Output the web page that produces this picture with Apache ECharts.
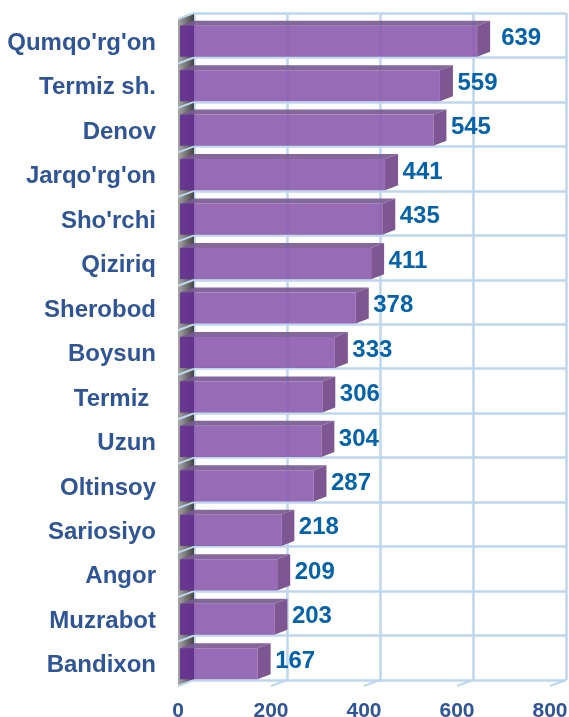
<!DOCTYPE html>
<html>
<head>
<meta charset="utf-8">
<style>
  html, body { margin: 0; padding: 0; background: #fff; }
  #chart { width: 569px; height: 717px; }
</style>
<script src="https://cdn.jsdelivr.net/npm/echarts@6/dist/echarts.min.js"></script>
</head>
<body>
<div id="chart"></div>
<script>
const districts = ["Qumqo'rg'on", 'Termiz sh.', 'Denov', "Jarqo'rg'on", "Sho'rchi", 'Qiziriq', 'Sherobod', 'Boysun', 'Termiz ', 'Uzun', 'Oltinsoy', 'Sariosiyo', 'Angor', 'Muzrabot', 'Bandixon'];
const counts = [639, 559, 545, 441, 435, 411, 378, 333, 306, 304, 287, 218, 209, 203, 167];
const xTicks = [0, 200, 400, 600, 800];

const DEPTH_X = 16;
const DEPTH_Y = 6;
const gridColor = '#bdd7ee';
const axisTextColor = '#2f5597';

const chart = echarts.init(document.getElementById('chart'));

function renderWall(params, api) {
  const top = api.coord([0, 0])[1] - api.size([0, 1])[1] / 2;
  const bottom = api.coord([0, districts.length - 1])[1] + api.size([0, 1])[1] / 2;
  const x = api.coord([0, 0])[0];
  return {
    type: 'polygon',
    shape: { points: [[x, top], [x + DEPTH_X, top - DEPTH_Y], [x + DEPTH_X, bottom - DEPTH_Y], [x, bottom]] },
    style: {
      fill: new echarts.graphic.LinearGradient(0, 0, 1, 0, [
        { offset: 0, color: '#a8a8a8' },
        { offset: 1, color: '#444444' },
      ]),
    },
  };
}

// little slanted lines from the back wall to the front plane
function stub(x, y) {
  return {
    type: 'line',
    shape: { x1: x, y1: y, x2: x + DEPTH_X, y2: y - DEPTH_Y },
    style: { stroke: gridColor, lineWidth: 2 },
  };
}

function renderLeftStub(params, api) {
  const band = api.size([0, 1])[1];
  const p = api.coord([0, api.value(0)]);
  return stub(p[0], p[1] - band / 2);
}

function renderBottomStub(params, api) {
  const band = api.size([0, 1])[1];
  const p = api.coord([api.value(0), districts.length - 1]);
  return stub(p[0], p[1] + band / 2);
}

function renderBar(params, api) {
  const value = api.value(0);
  const start = api.coord([0, api.value(1)]);
  const end = api.coord([value, api.value(1)]);
  const h = api.size([0, 1])[1] * 0.7;
  const top = start[1] - h / 2;
  const bottom = start[1] + h / 2;
  const left = start[0] + 2;
  const wall = start[0] + DEPTH_X;
  const front = end[0] + 2;
  const back = end[0] + 15;
  const lift = 5;
  const labelGap = params.dataIndex === 0 ? 11 : 4.5;
  return {
    type: 'group',
    children: [
      {
        type: 'polygon',
        shape: { points: [[left, top], [wall, top - lift], [back, top - lift], [front, top], [left, top]] },
        style: { fill: '#7a5a92', opacity: 0.92 },
      },
      {
        type: 'rect',
        shape: { x: left, y: top, width: wall - left, height: h },
        style: { fill: '#66338f', opacity: 0.95 },
      },
      {
        type: 'rect',
        shape: { x: wall, y: top, width: front - wall, height: h },
        style: { fill: '#8c5bae', opacity: 0.9 },
      },
      {
        type: 'polygon',
        shape: { points: [[front, top], [back, top - lift], [back, bottom - lift], [front, bottom]] },
        style: { fill: '#7b5490', opacity: 0.98 },
      },
      {
        type: 'text',
        x: back + labelGap,
        y: start[1] - 2.5,
        style: {
          text: String(value),
          fill: '#0563ab',
          font: 'bold 24px "Liberation Sans", Arial, sans-serif',
          align: 'left',
          verticalAlign: 'middle',
        },
      },
    ],
  };
}

chart.setOption({
  animation: false,
  backgroundColor: '#fff',
  grid: [
    { left: 178, right: 19, top: 19, bottom: 31, outerBoundsMode: 'none' },
    { left: 194, right: 3, top: 13, bottom: 37, outerBoundsMode: 'none' },
    // only holds the district names, they sit a bit lower than the bars
    { left: 178, right: 19, top: 21, bottom: 29, outerBoundsMode: 'none' },
  ],
  xAxis: [
    {
      gridIndex: 0,
      type: 'value',
      min: 0,
      max: 800,
      interval: 200,
      axisLine: { show: false },
      axisTick: { show: false },
      splitLine: { show: false },
      axisLabel: {
        color: axisTextColor,
        fontFamily: '"Liberation Sans", Arial, sans-serif',
        fontWeight: 'bold',
        fontSize: 21,
        margin: 15,
        hideOverlap: false,
        showMaxLabel: true,
        showMinLabel: true,
      },
    },
    {
      gridIndex: 1,
      type: 'value',
      min: 0,
      max: 800,
      interval: 200,
      axisLine: { show: false },
      axisTick: { show: false },
      axisLabel: { show: false },
      splitLine: { show: true, lineStyle: { color: gridColor, width: 2.5 } },
    },
    { gridIndex: 2, type: 'value', show: false, min: 0, max: 800 },
  ],
  yAxis: [
    {
      gridIndex: 0,
      type: 'category',
      inverse: true,
      data: districts,
      axisLine: { show: false },
      axisTick: { show: false },
      axisLabel: { show: false },
      splitLine: { show: false },
    },
    {
      gridIndex: 1,
      type: 'category',
      inverse: true,
      data: districts,
      axisLine: { show: false },
      axisTick: { show: false },
      axisLabel: { show: false },
      splitLine: { show: true, interval: 0, lineStyle: { color: gridColor, width: 2.5 } },
    },
    {
      gridIndex: 2,
      type: 'category',
      inverse: true,
      data: districts,
      axisLine: { show: false },
      axisTick: { show: false },
      splitLine: { show: false },
      axisLabel: {
        interval: 0,
        color: axisTextColor,
        fontFamily: '"Liberation Sans", Arial, sans-serif',
        fontWeight: 'bold',
        fontSize: 24,
        margin: 22,
      },
    },
  ],
  series: [
    { type: 'custom', name: 'wall', xAxisIndex: 0, yAxisIndex: 0, clip: false, z: 3, data: [[0]], renderItem: renderWall, silent: true },
    { type: 'custom', name: 'leftStubs', xAxisIndex: 0, yAxisIndex: 0, clip: false, z: 4, data: districts.map((d, i) => [i]), renderItem: renderLeftStub, silent: true },
    { type: 'custom', name: 'bottomStubs', xAxisIndex: 0, yAxisIndex: 0, clip: false, z: 4, data: xTicks.map((t) => [t]), renderItem: renderBottomStub, silent: true },
    {
      type: 'custom',
      name: 'counts',
      xAxisIndex: 0,
      yAxisIndex: 0,
      clip: false,
      z: 5,
      data: counts.map((c, i) => [c, i]),
      encode: { x: 0, y: 1 },
      renderItem: renderBar,
    },
  ],
});
</script>
</body>
</html>
